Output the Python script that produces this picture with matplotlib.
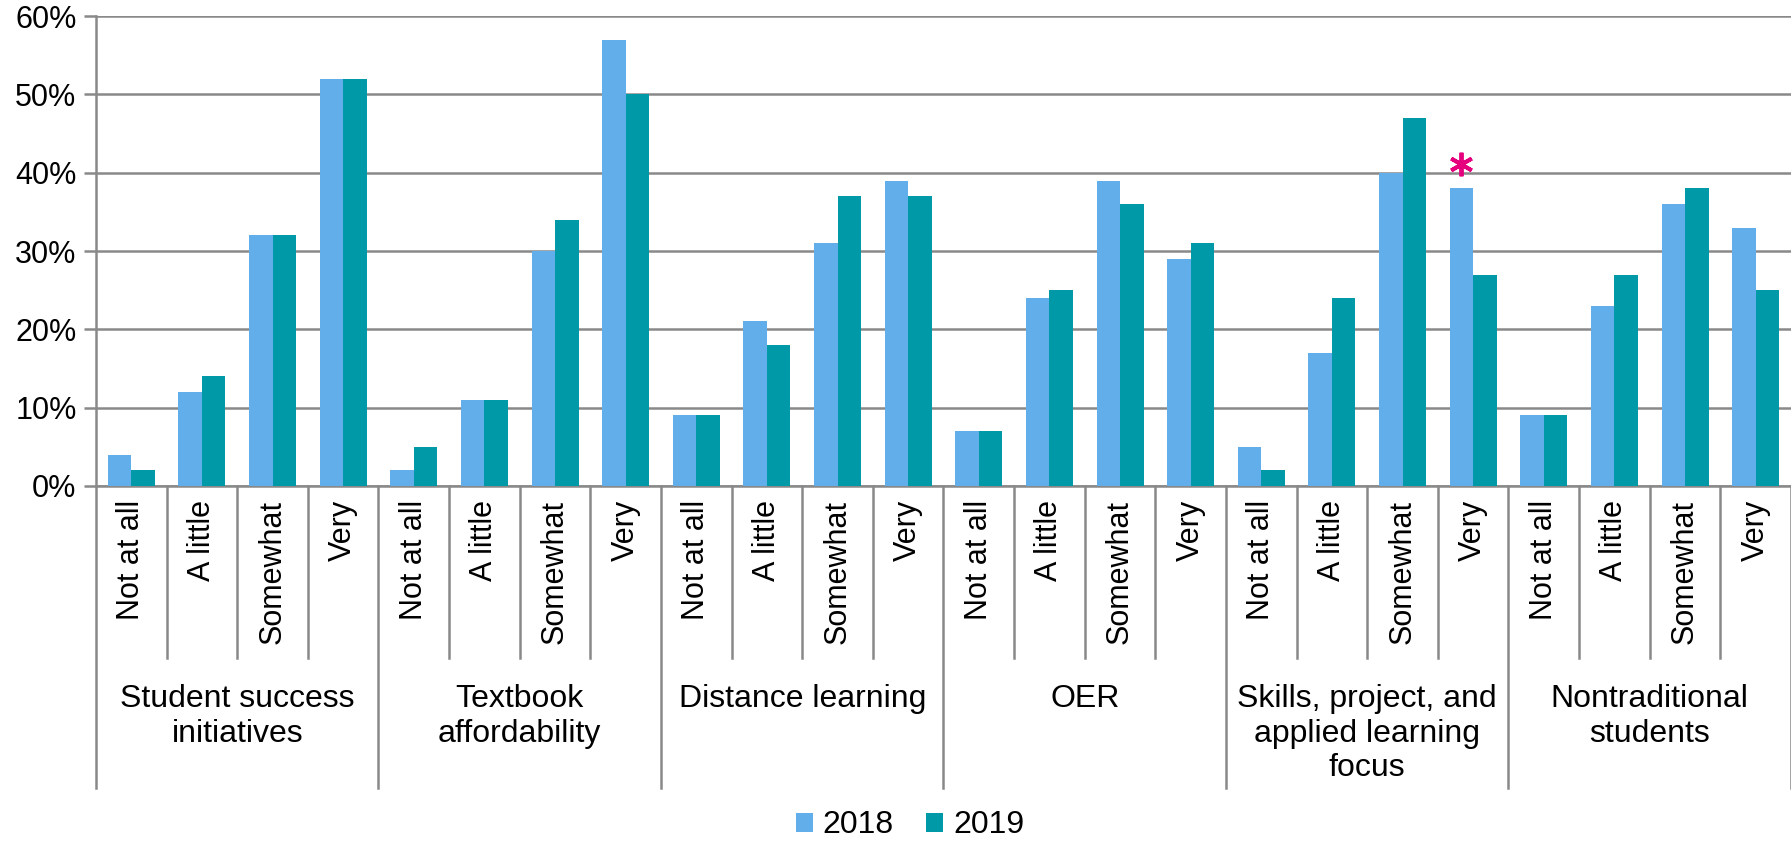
import matplotlib
matplotlib.use("Agg")
from matplotlib import pyplot as plt
import numpy as np

plt.rcParams['font.family'] = ['Liberation Sans', 'DejaVu Sans']

groups = ["Student success\ninitiatives", "Textbook\naffordability", "Distance learning",
          "OER", "Skills, project, and\napplied learning\nfocus", "Nontraditional\nstudents"]
levels = ["Not at all", "A little", "Somewhat", "Very"]

# percent, 4 levels per group in order
vals_2018 = [4, 12, 32, 52,
             2, 11, 30, 57,
             9, 21, 31, 39,
             7, 24, 39, 29,
             5, 17, 40, 38,
             9, 23, 36, 33]
vals_2019 = [2, 14, 32, 52,
             5, 11, 34, 50,
             9, 18, 37, 37,
             7, 25, 36, 31,
             2, 24, 47, 27,
             9, 27, 38, 25]
# significant change marker: (group, level)
star_at = (4, 3)

c2018 = "#62AEEA"
c2019 = "#0099A8"
grey = "#898989"

fig = plt.figure(figsize=(17.91, 8.44), dpi=100)
ax = fig.add_axes([0.0536, 0.4242, 0.9464, 0.5568])

n = len(groups) * len(levels)
x = np.arange(n)
w = 1 / 3
ax.bar(x - w / 2, vals_2018, w, color=c2018, label="2018", zorder=3)
ax.bar(x + w / 2, vals_2019, w, color=c2019, label="2019", zorder=3)

ax.set_xlim(-0.5, n - 0.5)
ax.set_ylim(0, 60)
ax.set_yticks(np.arange(0, 61, 10))
ax.set_yticklabels([f"{v}%" for v in range(0, 61, 10)], fontsize=22)
ax.yaxis.grid(True, color=grey, lw=1.8, zorder=0)
ax.tick_params(axis='y', length=9, width=1.8, color=grey, pad=5)
ax.set_xticks([])
for s in ["top", "right"]:
    ax.spines[s].set_visible(False)
for s in ["left", "bottom"]:
    ax.spines[s].set_color(grey)
    ax.spines[s].set_linewidth(1.8)

tr = ax.get_xaxis_transform()
for i in range(n):
    ax.text(x[i], -0.03, levels[i % 4], transform=tr, rotation=90,
            ha='center', va='top', fontsize=22)
for b in range(n + 1):
    bottom = -0.643 if b % 4 == 0 else -0.366
    ax.plot([b - 0.5, b - 0.5], [0, bottom], transform=tr, color=grey,
            lw=1.8, clip_on=False)
for g, name in enumerate(groups):
    ax.text(g * 4 + 1.5, -0.422, name, transform=tr, ha='center', va='top',
            fontsize=23, linespacing=1.2)

gi, li = star_at
idx = gi * 4 + li
ax.plot([idx - w / 2], [vals_2018[idx] + 3.1], marker=(6, 2, 0), ms=17,
        mew=2.8, color="#E5007D", clip_on=False, zorder=4)

fig.legend(loc='center', bbox_to_anchor=(0.508, 0.022), ncol=2, frameon=False,
           fontsize=23, handlelength=0.55, handleheight=0.55, handletextpad=0.3,
           columnspacing=1.0)

fig.savefig("out.png", dpi=100)
